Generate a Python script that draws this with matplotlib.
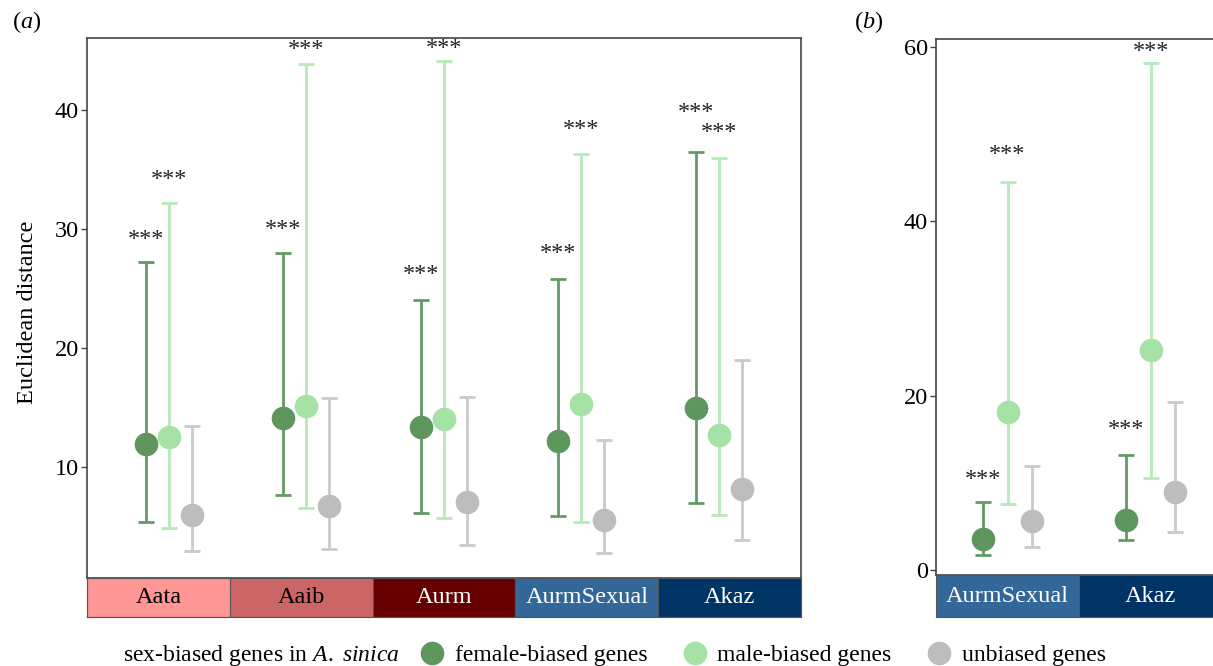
import matplotlib
matplotlib.use("Agg")
import matplotlib.pyplot as plt
from matplotlib.lines import Line2D
import numpy as np

plt.rcParams['font.family'] = ['Liberation Serif', 'DejaVu Serif']
plt.rcParams['mathtext.fontset'] = 'custom'
plt.rcParams['mathtext.rm'] = 'Liberation Serif'
plt.rcParams['mathtext.it'] = 'Liberation Serif:italic'

# ---------------- data ----------------
species_a = ["Aata", "Aaib", "Aurm", "AurmSexual", "Akaz"]
strip_colors_a = ["#FF9696", "#CC6666", "#660000", "#336699", "#003366"]
strip_text_a = ["black", "black", "white", "white", "white"]

female_a = [11.9, 14.1, 13.3, 12.2, 14.9]
female_a_lo = [5.3, 7.6, 6.1, 5.8, 6.9]
female_a_hi = [27.2, 28.0, 24.0, 25.8, 36.5]
male_a = [12.5, 15.1, 14.0, 15.3, 12.7]
male_a_lo = [4.8, 6.5, 5.7, 5.3, 5.9]
male_a_hi = [32.2, 43.9, 44.2, 36.3, 36.0]
unb_a = [5.9, 6.65, 7.0, 5.5, 8.1]
unb_a_lo = [2.9, 3.1, 3.4, 2.7, 3.8]
unb_a_hi = [13.4, 15.8, 15.9, 12.25, 19.0]

species_b = ["AurmSexual", "Akaz"]
strip_colors_b = ["#336699", "#003366"]
strip_text_b = ["white", "white"]

female_b = [3.6, 5.7]
female_b_lo = [1.7, 3.4]
female_b_hi = [7.75, 13.2]
male_b = [18.1, 25.2]
male_b_lo = [7.6, 10.5]
male_b_hi = [44.5, 58.1]
unb_b = [5.65, 8.9]
unb_b_lo = [2.6, 4.4]
unb_b_hi = [11.9, 19.3]

sig_label = "***"
# gap (pixels) between whisker top and significance stars
star_gap_a_female = [23, 23, 26, 26, 39]
star_gap_a_male = [24, 15, 12, 25, 25]
star_gap_b_female = [23, 25]
star_gap_b_male = [28, 12]

group_names = ["female-biased genes", "male-biased genes", "unbiased genes"]

# ---------------- style ----------------
C_F = "#5E965E"
C_M = "#A6E2A6"
C_U = "#BDBDBD"
E_F = "#639A63"
E_M = "#B8EAB8"
E_U = "#CACACA"
SPINE = "#444444"
FS = 17.5
FS_LEG = 17

W, H = 1213, 666
fig = plt.figure(figsize=(W / 100, H / 100), dpi=100)


def fx(px):
    return px / W


def fy(py):
    return 1 - py / H


def draw_panel(ax, n, vals):
    x = np.arange(n)
    for (m, lo, hi, mc, ec, off) in vals:
        m = np.array(m); lo = np.array(lo); hi = np.array(hi)
        ax.errorbar(x + off, m, yerr=[m - lo, hi - m], fmt='none', ecolor=ec,
                    elinewidth=2.0, capsize=5.5, capthick=2.0, zorder=2)
        ax.plot(x + off, m, 'o', ms=16, color=mc, mec=mc, zorder=3)
    return x


def stars(ax, xs, tops, gaps):
    for xx, t, g in zip(xs, tops, gaps):
        ax.annotate(sig_label, (xx, t), xytext=(0, g * 0.72), textcoords='offset points',
                    ha='center', va='center', fontsize=FS, color='#222222')


def style_axes(ax):
    for s in ax.spines.values():
        s.set_color(SPINE)
        s.set_linewidth(1.2)
    ax.tick_params(axis='y', labelsize=FS, length=4, width=1.0, color=SPINE, pad=2)
    ax.set_xticks([])


def strip(ax, names, colors, tcolors, xlim):
    x = np.arange(len(names))
    ax.bar(x, 1, width=1.0, color=colors, edgecolor="#555555", linewidth=0.8)
    for xx, nm, tc in zip(x, names, tcolors):
        ax.text(xx, 0.5, nm, ha='center', va='center', color=tc, fontsize=FS)
    ax.set_xlim(*xlim)
    ax.set_ylim(0, 1)
    ax.set_xticks([]); ax.set_yticks([])
    for s in ax.spines.values():
        s.set_color("#555555"); s.set_linewidth(0.8)


# ---------------- panel a ----------------
axa = fig.add_axes([fx(87), fy(578), fx(801 - 87), (578 - 38) / H])
da = 0.167
xa = draw_panel(axa, 5, [
    (female_a, female_a_lo, female_a_hi, C_F, E_F, -da),
    (male_a, male_a_lo, male_a_hi, C_M, E_M, 0.0),
    (unb_a, unb_a_lo, unb_a_hi, C_U, E_U, da),
])
axa.set_xlim(-0.597, 4.6)
axa.set_ylim(0.62, 46.1)
axa.set_yticks([10, 20, 30, 40])
style_axes(axa)
axa.set_ylabel("Euclidean distance", fontsize=FS)
axa.yaxis.set_label_coords((38 - 87) / (801 - 87), (578 - 312) / (578 - 38))
stars(axa, xa - da, female_a_hi, star_gap_a_female)
stars(axa, xa, male_a_hi, star_gap_a_male)

sa = fig.add_axes([fx(87), fy(617), fx(801 - 87), (617 - 578) / H])
strip(sa, species_a, strip_colors_a, strip_text_a, (-0.5, 4.5))

# ---------------- panel b ----------------
axb = fig.add_axes([fx(936), fy(575), fx(1222 - 936), (575 - 39) / H])
db = 0.17
xb = draw_panel(axb, 2, [
    (female_b, female_b_lo, female_b_hi, C_F, E_F, -db),
    (male_b, male_b_lo, male_b_hi, C_M, E_M, 0.0),
    (unb_b, unb_b_lo, unb_b_hi, C_U, E_U, db),
])
axb.set_xlim(-0.5, 1.5)
axb.set_ylim(-0.57, 60.9)
axb.set_yticks([0, 20, 40, 60])
style_axes(axb)
stars(axb, xb - db, female_b_hi, star_gap_b_female)
stars(axb, xb, male_b_hi, star_gap_b_male)

sb = fig.add_axes([fx(936), fy(617), fx(1222 - 936), (617 - 575) / H])
strip(sb, species_b, strip_colors_b, strip_text_b, (-0.5, 1.5))

# ---------------- panel labels ----------------
fig.text(fx(12), fy(22), r"($\it{a}$)", fontsize=FS, va='center', ha='left')
fig.text(fx(854), fy(22), r"($\it{b}$)", fontsize=FS, va='center', ha='left')

# ---------------- legend ----------------
fig.text(fx(123), fy(655), r"sex-biased genes in $\it{A.\ sinica}$", fontsize=FS_LEG,
         va='center', ha='left')
handles = [Line2D([], [], ls='none', marker='o', ms=16, color=c) for c in (C_F, C_M, C_U)]
fig.legend(handles, group_names, loc='center left', bbox_to_anchor=(fx(420), fy(655)),
           ncol=3, frameon=False, fontsize=FS_LEG, handlelength=1.0, handletextpad=0.47,
           columnspacing=1.5, borderpad=0, borderaxespad=0)

fig.savefig("out.png", dpi=100)
